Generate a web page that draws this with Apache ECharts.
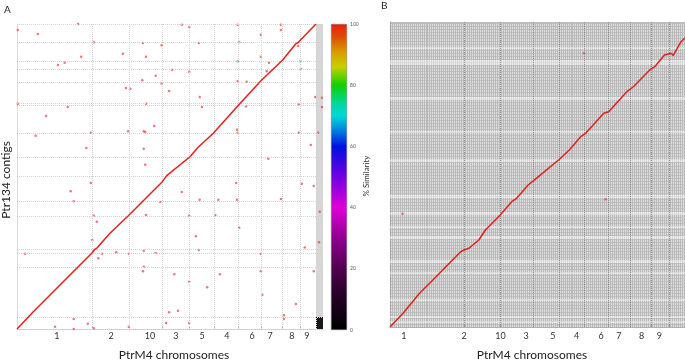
<!DOCTYPE html>
<html>
<head>
<meta charset="utf-8">
<script src="https://cdn.jsdelivr.net/npm/echarts@6.0.0/dist/echarts.min.js"></script>
<style>
  html, body { margin: 0; padding: 0; background: #fff; }
  #main { width: 685px; height: 361px; }
</style>
</head>
<body>
<div id="main"></div>
<script>
// chromosomes of PtrM4 in plot order, lengths in Mb
var chrNames = ['1', '2', '10', '3', '5', '4', '6', '7', '8', '9'];
var chrLen = [10.06, 4.96, 4.43, 3.62, 3.35, 3.22, 3.08, 2.82, 2.41, 2.15];
// where the chromosome names sit on each x axis (Mb)
var labelPosA = [5.36, 12.61, 17.84, 21.32, 24.81, 28.16, 31.52, 33.93, 36.88, 38.89];
var labelPosB = [1.88, 10.06, 15.02, 18.51, 22.13, 25.35, 28.70, 31.11, 34.20, 36.61];
// Ptr134 contig breaks drawn in panel A (Mb)
var contigBreaksA = [37.73, 35.24, 34.18, 32.48, 29.71, 29.45, 25.77, 22.61, 20.12, 16.83, 14.86, 10.52, 9.99, 8.15, 1.58];
// lighter contig bands in panel B [from, to] (Mb)
var lightBandsB = [[36.55, 36.81], [34.45, 35.10], [29.85, 30.24], [25.51, 25.77], [21.69, 22.09],
  [16.96, 17.36], [14.73, 15.12], [13.02, 13.28], [11.57, 11.96], [8.41, 8.81], [6.97, 7.23],
  [3.42, 3.68], [1.18, 1.45], [0.53, 0.79]];
// similarity colour scale ticks
var simTicks = [0, 20, 40, 60, 80, 100];

// main collinear alignment, panel A  [PtrM4 Mb, Ptr134 Mb]
var diagA = [[0, 0], [2.19, 2.27], [4.43, 4.47], [6.67, 6.67], [8.89, 8.85], [10.02, 9.95],
  [10.4, 10.45], [10.69, 10.61], [12.47, 12.58], [14.93, 14.90], [16.94, 16.87], [19.49, 19.37],
  [20.08, 20.16], [23.20, 22.65], [24.3, 23.9], [24.54, 23.97], [26.33, 25.73], [29.60, 29.32],
  [32.82, 32.74], [35.63, 35.37], [37.4, 37.5], [37.73, 37.70], [40.10, 40.10]];
// scattered hits, panel A
var hitsA = [[0.1, 39.3], [2.8, 38.8], [8.2, 40.1], [10.3, 37.7], [8.6, 35.8], [5.5, 34.7], [6.4, 35.0],
  [14.2, 36.2], [16.9, 37.6], [17.3, 35.8], [19.4, 37.3], [22.1, 40.0], [23.1, 39.7], [24.4, 37.6],
  [29.6, 40.0], [29.8, 37.7], [29.6, 35.2], [32.7, 38.7], [35.4, 40.0], [35.4, 39.3], [32.7, 35.8],
  [33.8, 35.0], [37.7, 37.2], [38.0, 35.2], [38.1, 34.2], [20.8, 34.1], [23.1, 33.8], [18.6, 33.3],
  [16.8, 32.7], [19.4, 32.3], [29.6, 32.6], [30.8, 32.5], [33.5, 33.9], [14.6, 31.7], [15.2, 31.6],
  [20.4, 31.3], [24.5, 30.5], [40.0, 30.5], [40.9, 30.4], [0.1, 29.6], [6.8, 29.2], [17.3, 29.6],
  [24.8, 29.2], [30.7, 29.3], [37.8, 29.5], [40.9, 29.2], [3.9, 28.0], [18.4, 26.7], [14.9, 26.0],
  [17.0, 26.0], [17.2, 25.9], [29.5, 26.2], [29.6, 25.8], [37.8, 25.8], [40.4, 25.8], [2.5, 25.4],
  [9.9, 25.8], [39.4, 24.2], [9.3, 23.8], [17.0, 23.7], [33.7, 22.4], [17.2, 21.6],
  [9.9, 19.2], [7.2, 18.1], [7.6, 16.8], [19.2, 16.7], [22.1, 18.0], [24.5, 17.0], [27.0, 17.0],
  [29.5, 17.0], [29.4, 19.2], [35.4, 17.1], [38.2, 19.1], [39.8, 18.8], [10.3, 14.9], [10.7, 14.1],
  [17.3, 15.0], [23.1, 14.9], [26.6, 15.0], [29.8, 13.3], [24.0, 12.2], [10.1, 11.7], [1.1, 9.9],
  [10.9, 9.3], [11.4, 9.9], [13.3, 10.1], [15.0, 9.9], [17.0, 10.3], [18.6, 10.0], [24.4, 10.4],
  [32.7, 9.9], [38.6, 10.7], [40.5, 11.4], [17.0, 8.2], [16.9, 7.6], [21.1, 7.2], [27.2, 7.2],
  [32.7, 7.6], [39.8, 7.6], [23.1, 6.2], [25.5, 5.5], [32.9, 4.5], [37.4, 3.3], [35.8, 1.8],
  [35.8, 1.3], [7.6, 1.3], [7.6, 0.0], [5.1, 0.3], [9.5, 0.7], [10.3, 0.1], [15.0, 0.3], [20.0, 0.8],
  [20.4, 2.2], [21.6, 2.4], [23.1, 0.8], [40.6, 15.4]];

// main collinear alignment, panel B
var diagB = [[0, 0], [1.78, 1.80], [4.02, 4.43], [6.26, 6.61], [8.49, 8.81], [9.62, 9.90],
  [10.06, 10.12], [10.73, 10.35], [12.07, 11.44], [12.97, 12.75], [14.98, 14.73], [16.54, 16.47],
  [17.21, 16.92], [18.78, 18.67], [19.89, 19.55], [23.03, 22.05], [24.37, 23.27], [25.92, 25.02],
  [26.59, 25.47], [29.06, 28.10], [29.73, 28.31], [32.19, 30.94], [33.09, 31.59], [35.31, 33.79],
  [35.98, 34.22], [37.32, 35.76], [38.22, 35.99], [38.5, 35.7], [39.56, 37.51], [40.1, 38.0]];
var hitsB = [[26.4, 36.0], [29.3, 16.8], [1.7, 14.9]];

var chrEnds = [];
var acc = 0;
chrLen.forEach(function (l) { acc += l; chrEnds.push(+acc.toFixed(2)); });

var font = 'Lato, "Open Sans", sans-serif';

function nameAt(positions) {
  return function (v) {
    for (var i = 0; i < positions.length; i++) {
      if (Math.abs(positions[i] - v) < 1e-6) return chrNames[i];
    }
    return '';
  };
}

var myChart = echarts.init(document.getElementById('main'));
var option = {
  animation: false,
  backgroundColor: '#fff',
  grid: [
    {left: 17, top: 24, width: 306, height: 305, show: false},
    {left: 390, top: 22, width: 299, height: 305, show: true, backgroundColor: '#dedede', borderWidth: 0},
    {left: 331, top: 24, width: 16, height: 306, show: false}
  ],
  graphic: [
    {type: 'text', left: 4, top: 5, style: {text: 'A', fontSize: 10, fill: '#222', fontFamily: font}},
    {type: 'text', left: 381, top: 1, style: {text: 'B', fontSize: 10, fill: '#222', fontFamily: font}},
    {type: 'text', x: 6, y: 180, rotation: Math.PI / 2,
      style: {text: 'Ptr134 contigs', fontSize: 12, fill: '#222', fontFamily: font, align: 'center', verticalAlign: 'middle'}},
    {type: 'text', x: 174, y: 355,
      style: {text: 'PtrM4 chromosomes', fontSize: 12, fill: '#222', fontFamily: font, align: 'center', verticalAlign: 'middle'}},
    {type: 'text', x: 532, y: 355,
      style: {text: 'PtrM4 chromosomes', fontSize: 12, fill: '#222', fontFamily: font, align: 'center', verticalAlign: 'middle'}},
    {type: 'text', x: 366, y: 176, rotation: Math.PI / 2,
      style: {text: '% Similarity', fontSize: 8, fill: '#333', fontFamily: font, align: 'center', verticalAlign: 'middle'}}
  ],
  xAxis: [
    {
      gridIndex: 0, type: 'value', min: 0, max: 41.04,
      axisLine: {lineStyle: {color: '#c8c8c8', type: 'dotted'}},
      axisTick: {show: true, customValues: chrEnds, inside: true, length: 2, lineStyle: {color: '#aaa'}},
      axisLabel: {customValues: labelPosA, formatter: nameAt(labelPosA), fontSize: 9, color: '#333', margin: 3, fontFamily: font},
      splitLine: {show: false}
    },
    {
      gridIndex: 1, type: 'value', min: 0, max: 40.1,
      axisLine: {lineStyle: {color: '#aaa', type: 'dotted'}},
      axisTick: {show: true, customValues: chrEnds, inside: true, length: 2, lineStyle: {color: '#999'}},
      axisLabel: {customValues: labelPosB, formatter: nameAt(labelPosB), fontSize: 9, color: '#333', margin: 5, fontFamily: font},
      splitLine: {show: false}
    },
    {
      gridIndex: 1, type: 'value', position: 'top', min: 0, max: 40.1, interval: 0.27,
      axisLine: {show: false}, axisTick: {show: false}, axisLabel: {show: false},
      splitLine: {show: true, lineStyle: {color: '#b9b9b9', width: 1}}
    },
    {
      gridIndex: 2, type: 'category', data: ['sim'], show: false
    }
  ],
  yAxis: [
    {
      gridIndex: 0, type: 'value', min: 0, max: 40.1,
      axisLine: {show: true, lineStyle: {color: '#d4d4d4', type: 'dotted'}},
      axisTick: {show: false}, axisLabel: {show: false}, splitLine: {show: false}
    },
    {
      gridIndex: 1, type: 'value', min: 0, max: 40.1, interval: 0.4,
      axisLine: {show: true, lineStyle: {color: '#a0a0a0'}}, axisTick: {show: false}, axisLabel: {show: false},
      splitLine: {show: true, lineStyle: {color: '#c2c2c2', width: 1}}
    },
    {
      gridIndex: 2, type: 'value', position: 'right', min: 0, max: 100, interval: 20,
      axisLine: {show: false}, axisTick: {show: false}, splitLine: {show: false},
      axisLabel: {fontSize: 5, color: '#555', margin: 3, fontFamily: font,
        customValues: simTicks}
    }
  ],
  series: [
    {
      name: 'PtrM4 vs Ptr134',
      type: 'line',
      xAxisIndex: 0, yAxisIndex: 0,
      data: diagA,
      symbol: 'none',
      lineStyle: {color: '#e3201b', width: 1.5},
      z: 5,
      markLine: {
        silent: true, symbol: 'none', label: {show: false},
        lineStyle: {color: '#d2d2d2', type: 'dotted', width: 1},
        data: chrEnds.map(function (v) { return {xAxis: v}; })
          .concat(contigBreaksA.map(function (v) { return {yAxis: v}; }))
          .concat([{yAxis: 40.1}])
      },
      markArea: {
        silent: true,
        data: [
          [{xAxis: 40.1, yAxis: 0, itemStyle: {color: '#d6d6d6'}}, {xAxis: 41.04, yAxis: 40.1}],
          [{xAxis: 40.1, yAxis: 0, itemStyle: {color: '#1a1a1a'}}, {xAxis: 41.04, yAxis: 1.58}]
        ]
      }
    },
    {
      name: 'hits A',
      type: 'scatter',
      xAxisIndex: 0, yAxisIndex: 0,
      data: hitsA,
      symbolSize: 2.5,
      itemStyle: {color: '#ee3b3b', opacity: 0.7},
      z: 4
    },
    {
      name: 'PtrM4 vs Ptr134 B',
      type: 'line',
      xAxisIndex: 1, yAxisIndex: 1,
      data: diagB,
      symbol: 'none',
      lineStyle: {color: '#e3201b', width: 1.5},
      z: 5,
      markLine: {
        silent: true, symbol: 'none', label: {show: false},
        lineStyle: {color: '#909090', type: 'dotted', width: 1},
        data: chrEnds.slice(0, 9).map(function (v) { return {xAxis: v}; })
      },
      markArea: {
        silent: true,
        itemStyle: {color: 'rgba(255,255,255,0.45)'},
        data: lightBandsB.map(function (b) { return [{yAxis: b[0]}, {yAxis: b[1]}]; })
      }
    },
    {
      name: 'hits B',
      type: 'scatter',
      xAxisIndex: 1, yAxisIndex: 1,
      data: hitsB,
      symbolSize: 2.5,
      itemStyle: {color: '#ee3b3b', opacity: 0.75},
      z: 4
    },
    {
      name: '% Similarity',
      type: 'bar',
      xAxisIndex: 3, yAxisIndex: 2,
      data: [100],
      barWidth: '100%',
      silent: true,
      itemStyle: {
        borderColor: '#777', borderWidth: 0.5,
        color: new echarts.graphic.LinearGradient(0, 0, 0, 1, [
          {offset: 0, color: '#e8200c'},
          {offset: 0.04, color: '#e04a08'},
          {offset: 0.09, color: '#d89a00'},
          {offset: 0.14, color: '#c8d000'},
          {offset: 0.2, color: '#10d000'},
          {offset: 0.26, color: '#00d8a0'},
          {offset: 0.3, color: '#00d8d8'},
          {offset: 0.34, color: '#0090e0'},
          {offset: 0.4, color: '#0010e0'},
          {offset: 0.5, color: '#7000e0'},
          {offset: 0.6, color: '#e000d8'},
          {offset: 0.7, color: '#900090'},
          {offset: 0.8, color: '#500050'},
          {offset: 0.9, color: '#200020'},
          {offset: 1, color: '#000000'}
        ])
      }
    }
  ]
};
myChart.setOption(option);
</script>
</body>
</html>
